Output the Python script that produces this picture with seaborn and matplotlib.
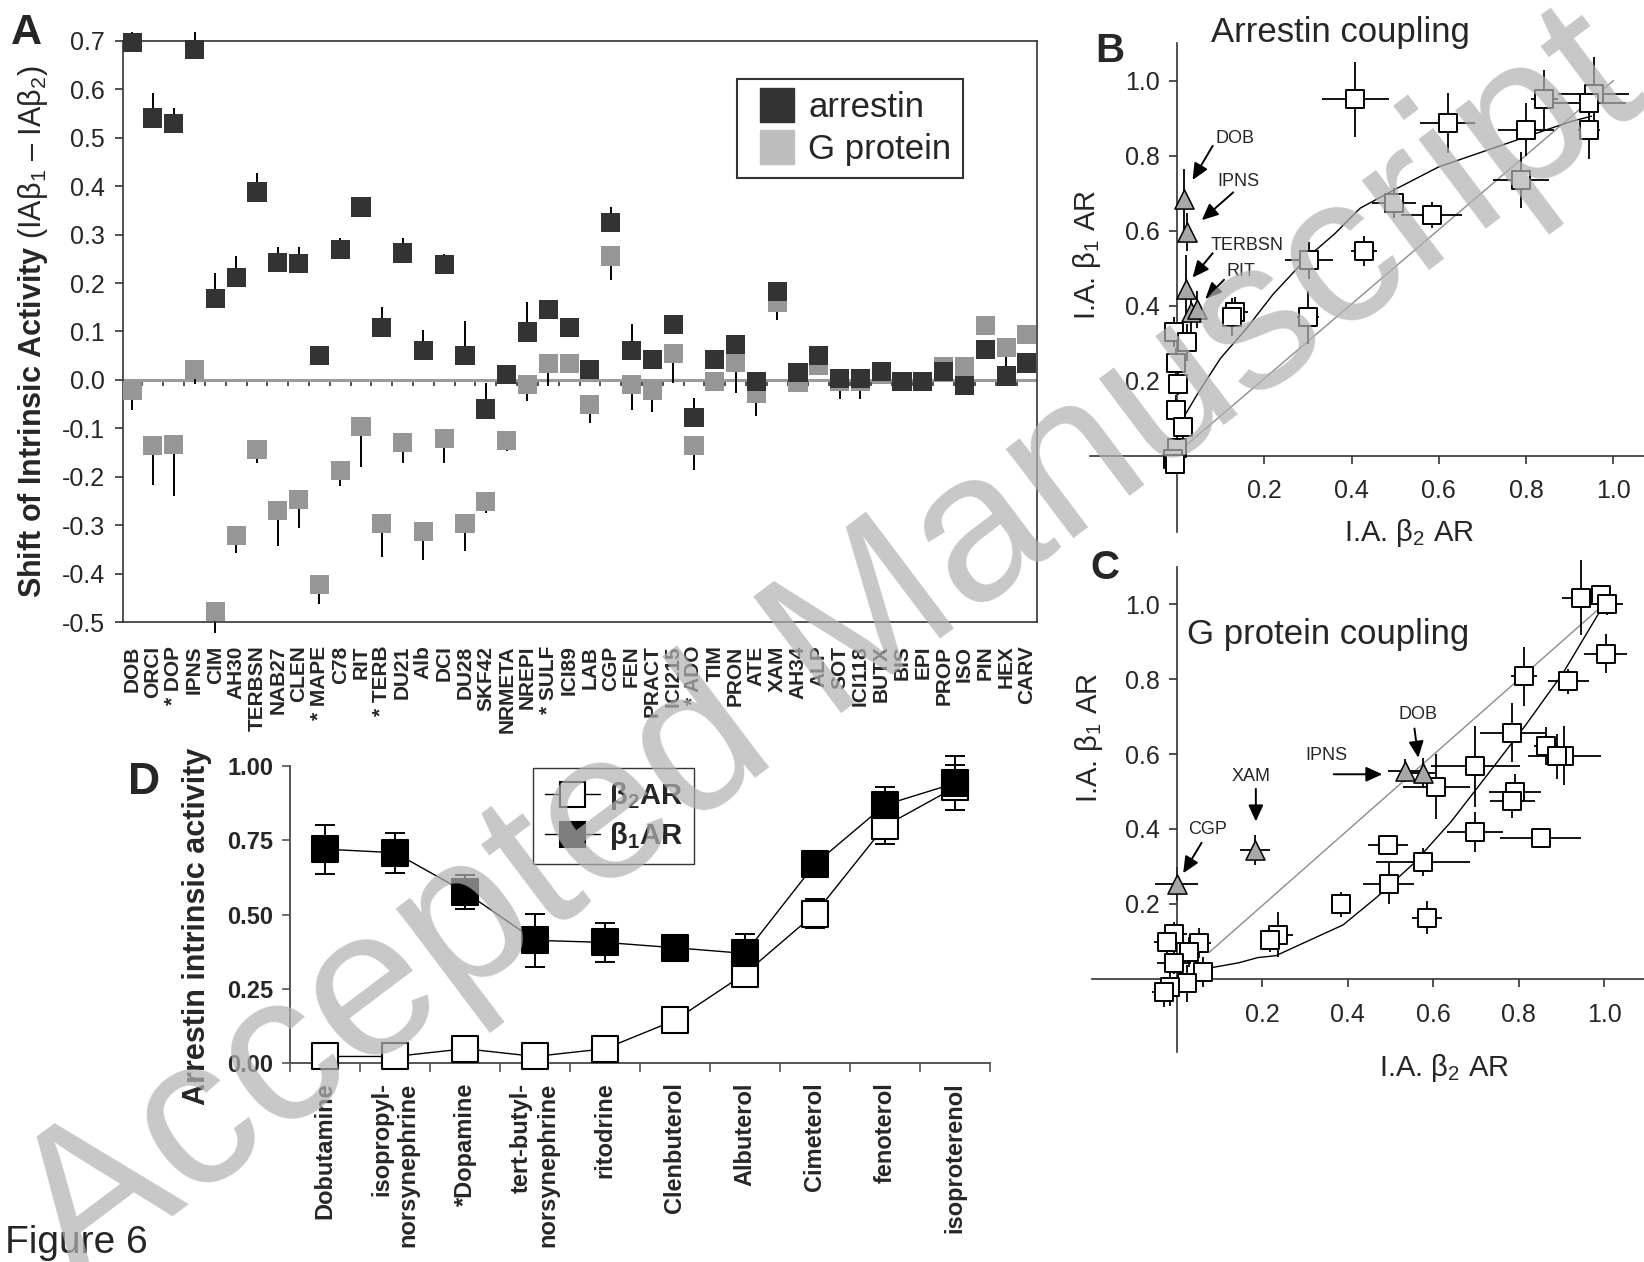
import numpy as np
import pandas as pd
import seaborn as sns
import matplotlib
matplotlib.use("Agg")
import matplotlib.pyplot as plt
from matplotlib.lines import Line2D
from matplotlib import font_manager

# ---------------- panel A: shift of intrinsic activity ----------------
A_LABELS = ['DOB', 'ORCI', '* DOP', 'IPNS', 'CIM', 'AH30', 'TERBSN', 'NAB27', 'CLEN',
            '* MAPE', 'C78', 'RIT', '* TERB', 'DU21', 'Alb', 'DCI', 'DU28', 'SKF42',
            'NRMETA', 'NREPI', '* SULF', 'ICI89', 'LAB', 'CGP', 'FEN', 'PRACT', 'ICI215',
            '* ADO', 'TIM', 'PRON', 'ATE', 'XAM', 'AH34', 'ALP', 'SOT', 'ICI118', 'BUTX',
            'BIS', 'EPI', 'PROP', 'ISO', 'PIN', 'HEX', 'CARV']
ARRESTIN = [0.697, 0.541, 0.530, 0.683, 0.169, 0.212, 0.388, 0.243, 0.240, 0.050, 0.270,
            0.357, 0.109, 0.262, 0.061, 0.239, 0.051, -0.060, 0.012, 0.099, 0.145, 0.109,
            0.022, 0.326, 0.060, 0.043, 0.114, -0.077, 0.043, 0.074, -0.004, 0.183, 0.015,
            0.051, 0.003, 0.003, 0.017, -0.004, -0.004, 0.017, -0.012, 0.062, 0.008, 0.035]
ARRESTIN_ERR = [0.021, 0.051, 0.031, 0.035, 0.051, 0.044, 0.040, 0.032, 0.035, 0.0, 0.024,
                0.020, 0.042, 0.032, 0.042, 0.021, 0.071, 0.054, 0.0, 0.062, 0.0, 0.0,
                0.0, 0.031, 0.055, 0.0, 0.0, 0.039, 0.0, 0.0, 0.0, 0.019, 0.0,
                0.015, 0.0, 0.0, 0.0, 0.0, 0.0, 0.0, 0.0, 0.0, 0.0, 0.0]
GPROTEIN = [-0.021, -0.135, -0.133, 0.021, -0.478, -0.321, -0.143, -0.270, -0.247, -0.422,
            -0.187, -0.096, -0.297, -0.129, -0.313, -0.121, -0.297, -0.251, -0.125, -0.010,
            0.034, 0.034, -0.051, 0.256, -0.009, -0.021, 0.054, -0.135, -0.004, 0.037,
            -0.028, 0.160, -0.005, 0.030, -0.003, -0.003, 0.012, -0.004, -0.004, 0.027,
            0.027, 0.113, 0.067, 0.094]
GPROTEIN_ERR = [0.041, 0.082, 0.107, 0.030, 0.044, 0.037, 0.029, 0.074, 0.059, 0.041,
                0.033, 0.084, 0.068, 0.043, 0.059, 0.051, 0.056, 0.023, 0.021, 0.033,
                0.046, 0.0, 0.039, 0.050, 0.053, 0.046, 0.060, 0.052, 0.0, 0.065,
                0.046, 0.036, 0.0, 0.015, 0.037, 0.037, 0.0, 0.0, 0.0, 0.0,
                0.0, 0.020, 0.040, 0.0]

# ---------------- panel B: arrestin coupling ----------------
B_SQ_X = [0.409, 0.620, 0.842, 0.955, 0.944, 0.944, 0.800, 0.788, 0.498, 0.584, 0.428, 0.302,
          0.300, 0.134, 0.127, -0.007, 0.023, -0.003, 0.002, -0.003, 0.014, 0.0, -0.008, -0.005]
B_SQ_Y = [0.950, 0.888, 0.950, 0.964, 0.940, 0.869, 0.869, 0.735, 0.673, 0.642, 0.545, 0.521,
          0.369, 0.383, 0.370, 0.330, 0.302, 0.247, 0.192, 0.121, 0.078, 0.021, -0.008, -0.022]
B_SQ_XERR = [0.077, 0.062, 0.030, 0.081, 0.085, 0.025, 0.064, 0.065, 0.050, 0.070, 0.030, 0.055,
             0.025, 0.030, 0.020, 0.015, 0.020, 0.015, 0.010, 0.010, 0.020, 0.010, 0.010, 0.010]
B_SQ_YERR = [0.100, 0.080, 0.078, 0.100, 0.030, 0.078, 0.070, 0.075, 0.040, 0.035, 0.040, 0.050,
             0.070, 0.040, 0.050, 0.040, 0.050, 0.040, 0.030, 0.040, 0.040, 0.030, 0.020, 0.020]
B_TRI_X = [0.017, 0.023, 0.021, 0.032, 0.045]
B_TRI_Y = [0.683, 0.597, 0.445, 0.383, 0.390]
B_TRI_XERR = [0.0, 0.0, 0.0, 0.0, 0.0]
B_TRI_YERR = [0.080, 0.050, 0.090, 0.060, 0.050]
B_FIT_X = [0.014, 0.05, 0.10, 0.16, 0.22, 0.30, 0.36, 0.42, 0.50, 0.60, 0.70, 0.80, 0.90, 0.95]
B_FIT_Y = [0.100, 0.170, 0.260, 0.340, 0.430, 0.530, 0.590, 0.660, 0.710, 0.770, 0.810, 0.850, 0.890, 0.905]
B_ID_X = [0.014, 1.0]
B_ID_Y = [0.021, 1.0]
B_NOTES = ['DOB', 'IPNS', 'TERBSN', 'RIT']

# ---------------- panel C: G protein coupling ----------------
C_SQ_X = [0.945, 0.992, 1.006, 1.003, 0.916, 0.812, 0.785, 0.864, 0.907, 0.890, 0.698, 0.607,
          0.792, 0.785, 0.698, 0.851, 0.494, 0.576, 0.496, 0.385, 0.585, 0.237, 0.219,
          -0.007, -0.024, 0.051, 0.028, -0.007, 0.061, 0.024, -0.016, -0.029]
C_SQ_Y = [1.017, 1.023, 1.000, 0.868, 0.794, 0.807, 0.657, 0.622, 0.596, 0.594, 0.568, 0.513,
          0.498, 0.475, 0.392, 0.376, 0.357, 0.311, 0.254, 0.199, 0.163, 0.118, 0.103,
          0.121, 0.098, 0.096, 0.071, 0.043, 0.018, -0.012, -0.021, -0.035]
C_SQ_XERR = [0.044, 0.020, 0.039, 0.050, 0.048, 0.030, 0.076, 0.028, 0.085, 0.030, 0.104, 0.078,
             0.061, 0.052, 0.065, 0.094, 0.046, 0.111, 0.060, 0.015, 0.035, 0.035, 0.020,
             0.030, 0.030, 0.030, 0.020, 0.040, 0.020, 0.020, 0.030, 0.030]
C_SQ_YERR = [0.100, 0.020, 0.030, 0.053, 0.034, 0.078, 0.078, 0.050, 0.078, 0.060, 0.108, 0.087,
             0.050, 0.046, 0.053, 0.020, 0.020, 0.037, 0.055, 0.034, 0.044, 0.060, 0.030,
             0.030, 0.030, 0.040, 0.040, 0.030, 0.040, 0.050, 0.050, 0.040]
C_TRI_X = [0.0, 0.183, 0.533, 0.576]
C_TRI_Y = [0.254, 0.344, 0.556, 0.550]
C_TRI_XERR = [0.050, 0.035, 0.040, 0.030]
C_TRI_YERR = [0.045, 0.040, 0.030, 0.040]
C_FIT_X = [0.076, 0.145, 0.19, 0.232, 0.293, 0.389, 0.468, 0.555, 0.642, 0.729, 0.816, 0.903, 1.0]
C_FIT_Y = [0.029, 0.043, 0.057, 0.062, 0.094, 0.144, 0.218, 0.309, 0.420, 0.548, 0.677, 0.815, 1.0]
C_ID_X = [0.076, 1.0]
C_ID_Y = [0.071, 1.0]
C_NOTES = ['DOB', 'IPNS', 'XAM', 'CGP']

# ---------------- panel D: arrestin intrinsic activity ----------------
D_LABELS = ['Dobutamine', 'isopropyl-\nnorsynephrine', '*Dopamine', 'tert-butyl-\nnorsynephrine',
            'ritodrine', 'Clenbuterol', 'Albuterol', 'Cimeterol', 'fenoterol', 'isoproterenol']
BETA1 = [0.720, 0.708, 0.576, 0.413, 0.406, 0.388, 0.369, 0.670, 0.869, 0.942]
BETA1_ERR = [0.083, 0.068, 0.056, 0.090, 0.067, 0.0, 0.067, 0.0, 0.060, 0.090]
BETA2 = [0.022, 0.022, 0.048, 0.022, 0.048, 0.144, 0.301, 0.503, 0.798, 0.928]
BETA2_ERR = [0.0, 0.0, 0.0, 0.0, 0.0, 0.0, 0.0, 0.050, 0.062, 0.075]

DARK = '#333333'
GRAY = '#969696'
LEGEND_GRAY = '#bebebe'
TRI = '#a8a8a8'
W, H = 1644, 1262

sns.set_theme(style='white')
plt.rcParams['font.family'] = ['Liberation Sans', 'DejaVu Sans']
plt.rcParams['axes.unicode_minus'] = False
plt.rcParams['mathtext.fontset'] = 'custom'
plt.rcParams['mathtext.rm'] = 'Liberation Sans'
plt.rcParams['mathtext.bf'] = 'Liberation Sans:bold'
plt.rcParams['mathtext.it'] = 'Liberation Sans:italic'

installed = {f.name for f in font_manager.fontManager.ttflist}
NARROW = 'Liberation Sans Narrow' if 'Liberation Sans Narrow' in installed else 'Liberation Sans'


def box(l, t, r, b):
    return [l / W, 1 - b / H, (r - l) / W, (b - t) / H]


fig = plt.figure(figsize=(W / 100, H / 100), dpi=100)
fig.patch.set_facecolor('white')

# ================= A =================
axA = fig.add_axes(box(122.5, 41, 1036.5, 622))
axA.patch.set_alpha(0)
n = len(A_LABELS)
dfA = pd.DataFrame({
    'pos': list(range(n)) * 2,
    'delta': GPROTEIN + ARRESTIN,
    'err': GPROTEIN_ERR + ARRESTIN_ERR,
    'coupling': ['G protein'] * n + ['arrestin'] * n,
})
g = dfA[(dfA['coupling'] == 'G protein') & (dfA['err'] > 0)]
a = dfA[(dfA['coupling'] == 'arrestin') & (dfA['err'] > 0)]
axA.axhline(0, color='#9a9a9a', lw=2.2, zorder=1)
axA.vlines(g['pos'], g['delta'], g['delta'] - g['err'], colors='black', lw=1.4, zorder=2, clip_on=False)
axA.vlines(a['pos'], a['delta'], a['delta'] + a['err'], colors='black', lw=1.4, zorder=2, clip_on=False)
sns.scatterplot(data=dfA, x='pos', y='delta', hue='coupling',
                palette={'G protein': GRAY, 'arrestin': DARK}, marker='s', s=190,
                linewidth=0, legend=False, ax=axA, zorder=3, clip_on=False)
axA.set_xlim(-0.46, n - 1 + 0.46)
axA.set_ylim(-0.5, 0.7)
yt = np.round(np.arange(-0.5, 0.71, 0.1), 1)
axA.set_yticks(yt, labels=[f'{v + 0:.1f}' for v in yt])
axA.set_xticks(range(n), labels=A_LABELS, rotation=90, fontfamily=NARROW,
               fontweight='bold', fontsize=15)
axA.tick_params(axis='x', length=0, pad=17)
axA.tick_params(axis='y', direction='out', length=5.5, width=1.2, color=DARK,
                labelsize=18, pad=7, left=True)
for s in axA.spines.values():
    s.set_color(DARK)
    s.set_linewidth(1.2)
axA.set_xlabel('')
axA.set_ylabel(r'$\mathbf{Shift\ of\ Intrinsic\ Activity}$ (IAβ$_1$ – IAβ$_2$)', fontsize=22)
axA.yaxis.set_label_coords(-0.079, 0.5)
zero = axA.secondary_xaxis(0.5 / 1.2)
zero.set_xticks(np.arange(n - 1) + 0.5, labels=[])
zero.tick_params(axis='x', direction='out', length=4.5, width=1.2, color=DARK)
for s in zero.spines.values():
    s.set_visible(False)
handles = [Line2D([], [], ls='none', marker='s', ms=24, mfc=DARK, mec=DARK),
           Line2D([], [], ls='none', marker='s', ms=24, mfc=LEGEND_GRAY, mec=LEGEND_GRAY)]
legA = axA.legend(handles, ['arrestin', 'G protein'], loc='upper left',
                  bbox_to_anchor=(0.6723, 0.9346), borderaxespad=0, frameon=True,
                  fancybox=False, edgecolor='black', fontsize=25, handlelength=1.6,
                  handletextpad=0.1, borderpad=0.35, labelspacing=0.25)
legA.get_frame().set_linewidth(1.5)


# ================= B and C =================
def coupling_panel(ax, sq, tri, fit, ident, xlim, ylim):
    sq_x, sq_y, sq_xe, sq_ye = (np.asarray(v) for v in sq)
    tr_x, tr_y, tr_xe, tr_ye = (np.asarray(v) for v in tri)
    sns.lineplot(x=ident[0], y=ident[1], color='#8c8c8c', lw=1.0, sort=False, ax=ax, zorder=1)
    sns.lineplot(x=fit[0], y=fit[1], color='black', lw=1.0, sort=False, ax=ax, zorder=1)
    for x, y, xe, ye in ((sq_x, sq_y, sq_xe, sq_ye), (tr_x, tr_y, tr_xe, tr_ye)):
        ax.errorbar(x, y, xerr=xe, yerr=ye, fmt='none', ecolor='black', elinewidth=1.3,
                    capsize=0, zorder=2, clip_on=False)
    sns.scatterplot(x=sq_x, y=sq_y, marker='s', s=160, facecolor='white', edgecolor='black',
                    linewidth=1.4, ax=ax, zorder=3, clip_on=False)
    sns.scatterplot(x=tr_x, y=tr_y, marker='^', s=190, facecolor=TRI, edgecolor='black',
                    linewidth=1.1, ax=ax, zorder=4, clip_on=False)
    ax.set_xlim(*xlim)
    ax.set_ylim(*ylim)
    ax.patch.set_alpha(0)
    for side in ('top', 'right'):
        ax.spines[side].set_visible(False)
    for side in ('left', 'bottom'):
        ax.spines[side].set_position(('data', 0))
        ax.spines[side].set_color(DARK)
        ax.spines[side].set_linewidth(1.2)
    ticks = [0.2, 0.4, 0.6, 0.8, 1.0]
    ax.set_xticks(ticks, labels=[f'{v:.1f}' for v in ticks])
    ax.set_yticks(ticks, labels=[f'{v:.1f}' for v in ticks])
    ax.tick_params(axis='x', direction='out', length=6, width=1.2, color=DARK, labelsize=18,
                   pad=11, bottom=True)
    ax.tick_params(axis='y', direction='out', length=6, width=1.2, color=DARK, labelsize=18,
                   pad=6, left=True)


def notes(ax, names, text_xy, arrows):
    for name, (tx, ty), (sx, sy, ex, ey) in zip(names, text_xy, arrows):
        ax.text(tx, ty, name, ha='center', va='center', fontsize=13, fontfamily=NARROW)
        ax.annotate('', xy=(ex, ey), xytext=(sx, sy),
                    arrowprops=dict(arrowstyle='-|>,head_length=0.55,head_width=0.25',
                                    color='black', lw=1.4, mutation_scale=18,
                                    shrinkA=0, shrinkB=0))


axB = fig.add_axes(box(1090, 43, 1644, 532))
coupling_panel(axB, (B_SQ_X, B_SQ_Y, B_SQ_XERR, B_SQ_YERR),
               (B_TRI_X, B_TRI_Y, B_TRI_XERR, B_TRI_YERR),
               (B_FIT_X, B_FIT_Y), (B_ID_X, B_ID_Y), (-0.199, 1.07), (-0.203, 1.10))
notes(axB, B_NOTES,
      [(0.134, 0.845), (0.142, 0.730), (0.161, 0.560), (0.146, 0.492)],
      [(0.082, 0.826, 0.036, 0.735), (0.129, 0.702, 0.057, 0.628),
       (0.082, 0.540, 0.036, 0.475), (0.108, 0.469, 0.065, 0.418)])
axB.set_xlabel('I.A. β$_2$ AR', fontsize=21)
axB.set_ylabel('I.A. β$_1$ AR', fontsize=21)
axB.xaxis.set_label_coords(0.576, 0.03)
axB.xaxis.label.set_va('top')
axB.yaxis.set_label_coords(0.024, 0.566)

axC = fig.add_axes(box(1091.7, 567, 1644, 1052))
coupling_panel(axC, (C_SQ_X, C_SQ_Y, C_SQ_XERR, C_SQ_YERR),
               (C_TRI_X, C_TRI_Y, C_TRI_XERR, C_TRI_YERR),
               (C_FIT_X, C_FIT_Y), (C_ID_X, C_ID_Y), (-0.199, 1.093), (-0.195, 1.099))
notes(axC, C_NOTES,
      [(0.565, 0.706), (0.351, 0.597), (0.173, 0.541), (0.071, 0.399)],
      [(0.556, 0.668, 0.565, 0.590), (0.367, 0.546, 0.481, 0.546),
       (0.185, 0.507, 0.185, 0.420), (0.058, 0.363, 0.015, 0.282)])
axC.set_xlabel('I.A. β$_2$ AR', fontsize=21)
axC.set_ylabel('I.A. β$_1$ AR', fontsize=21)
axC.xaxis.set_label_coords(0.638, 0.0)
axC.xaxis.label.set_va('top')
axC.yaxis.set_label_coords(0.024, 0.647)

fig.text(1340 / W, 1 - 42 / H, 'Arrestin coupling', ha='center', va='baseline', fontsize=25)
fig.text(1187 / W, 1 - 644 / H, 'G protein coupling', ha='left', va='baseline', fontsize=25)

# ================= D =================
axD = fig.add_axes(box(290, 766, 990, 1063))
axD.patch.set_alpha(0)
pos = np.arange(len(D_LABELS))
b1e = np.asarray(BETA1_ERR)
b2e = np.asarray(BETA2_ERR)
sns.lineplot(x=pos, y=BETA2, color='black', lw=1.0, ax=axD, zorder=1)
sns.lineplot(x=pos, y=BETA1, color='black', lw=1.0, ax=axD, zorder=1)
m1, m2 = b1e > 0, b2e > 0
axD.errorbar(pos[m1], np.asarray(BETA1)[m1], yerr=b1e[m1], fmt='none', ecolor='black',
             elinewidth=1.4, capsize=7, capthick=1.4, zorder=2, clip_on=False)
axD.errorbar(pos[m2], np.asarray(BETA2)[m2], yerr=b2e[m2], fmt='none', ecolor='black',
             elinewidth=1.4, capsize=7, capthick=1.4, zorder=2, clip_on=False)
sns.scatterplot(x=pos, y=BETA2, marker='s', s=330, facecolor='white', edgecolor='black',
                linewidth=1.5, ax=axD, zorder=3, clip_on=False)
sns.scatterplot(x=pos, y=BETA1, marker='s', s=330, facecolor='black', edgecolor='black',
                linewidth=1.5, ax=axD, zorder=4, clip_on=False)
axD.set_xlim(-0.5, len(D_LABELS) - 0.5)
axD.set_ylim(0, 1.0)
for side in ('top', 'right'):
    axD.spines[side].set_visible(False)
for side in ('left', 'bottom'):
    axD.spines[side].set_color('#555555')
    axD.spines[side].set_linewidth(1.4)
dt = [0.0, 0.25, 0.5, 0.75, 1.0]
axD.set_yticks(dt, labels=[f'{v:.2f}' for v in dt], fontweight='bold', fontsize=17)
axD.set_xticks(pos, labels=D_LABELS, rotation=90, fontfamily=NARROW, fontweight='bold',
               fontsize=17, multialignment='right')
axD.set_xticks(np.arange(len(D_LABELS) + 1) - 0.5, minor=True)
axD.tick_params(axis='x', which='major', length=0, pad=14)
axD.tick_params(axis='x', which='minor', direction='out', length=6.5, width=1.2, color='#555555', bottom=True)
axD.tick_params(axis='y', direction='out', length=6, width=1.2, color='#555555', pad=6, left=True)
axD.set_ylabel('Arrestin intrinsic activity', fontweight='bold', fontsize=22)
axD.yaxis.set_label_coords(-0.111, 0.46)
hD = [Line2D([], [], color='black', lw=1.0, marker='s', ms=18, mfc='white', mec='black', mew=1.5),
      Line2D([], [], color='black', lw=1.0, marker='s', ms=18, mfc='black', mec='black', mew=1.5)]
legD = axD.legend(hD, [r'β$_{\mathbf{2}}$AR', r'β$_{\mathbf{1}}$AR'], loc='upper left',
                  bbox_to_anchor=(0.347, 0.993), borderaxespad=0, frameon=True, fancybox=False,
                  edgecolor='black', handlelength=1.9, handletextpad=0.3, borderpad=0.4,
                  labelspacing=0.3, prop=dict(family=NARROW, weight='bold', size=21))
legD.get_frame().set_linewidth(1.0)

# ================= letters, caption, watermark =================
fig.text(11 / W, 1 - 44 / H, 'A', fontsize=31, fontweight='bold', va='baseline')
fig.text(1095 / W, 1 - 62 / H, 'B', fontsize=29, fontweight='bold', va='baseline')
fig.text(1090 / W, 1 - 579 / H, 'C', fontsize=29, fontweight='bold', va='baseline')
fig.text(128 / W, 1 - 794 / H, 'D', fontsize=32, fontweight='bold', va='baseline')
fig.text(5 / W, 1 - 1253 / H, 'Figure 6', fontsize=28, va='baseline')
fig.text(832 / W, 1 - 652 / H, 'Accepted Manuscript', fontsize=152, rotation=37,
         color='#b2b2b2', alpha=0.72, ha='center', va='center', zorder=100)

fig.savefig('out.png', dpi=100, facecolor='white')
